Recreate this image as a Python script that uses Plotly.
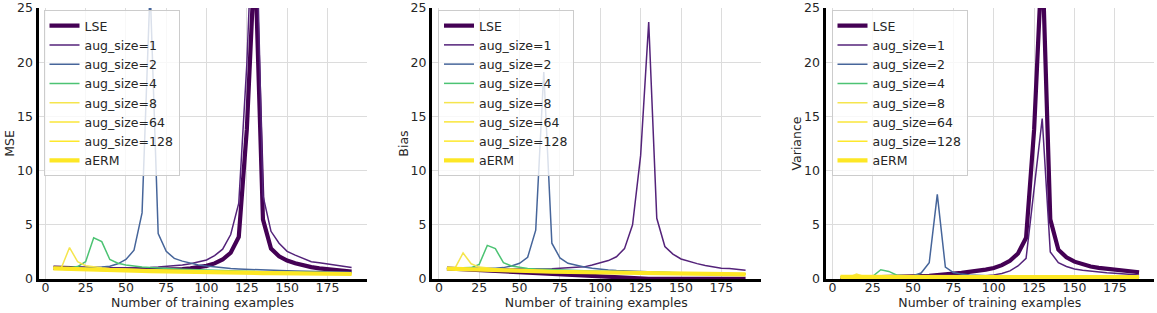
import plotly.graph_objects as go

# ---------------- data ----------------
X = [5, 10, 15, 20, 25, 30, 35, 40, 45, 50, 55, 60, 65, 70, 75, 80, 85, 90, 95, 100,
     105, 110, 115, 120, 125, 130, 135, 140, 145, 150, 155, 160, 165, 170, 175, 180, 185, 190]

SERIES = ["LSE", "aug_size=1", "aug_size=2", "aug_size=4", "aug_size=8",
          "aug_size=64", "aug_size=128", "aERM"]

# MSE panel
lse_mse = [1.05, 1.02, 0.99, 0.96, 0.94, 0.91, 0.89, 0.87, 0.85, 0.85,
           0.84, 0.83, 0.83, 0.84, 0.85, 0.88, 0.92, 0.98, 1.07, 1.21,
           1.44, 1.8, 2.42, 3.88, 13.8, 30.0, 5.5, 2.8, 2.1, 1.7,
           1.45, 1.25, 1.1, 0.98, 0.9, 0.82, 0.75, 0.68]
aug1_mse = [1.02, 1.02, 1.02, 1.02, 1.02, 1.02, 1.02, 1.02, 1.02, 1.02,
            1.03, 1.05, 1.07, 1.1, 1.15, 1.21, 1.3, 1.41, 1.57, 1.75,
            2.15, 2.75, 4.1, 7.0, 19.8, 38.5, 7.7, 4.4, 3.3, 2.55,
            2.2, 1.9, 1.6, 1.5, 1.4, 1.3, 1.2, 1.07]
aug2_mse = [1.05, 1.04, 1.04, 1.04, 1.05, 1.06, 1.1, 1.18, 1.4, 1.8,
            2.65, 6.1, 26.9, 4.2, 2.55, 1.9, 1.65, 1.45, 1.3, 1.2,
            1.1, 1.02, 0.96, 0.92, 0.88, 0.85, 0.82, 0.79, 0.77, 0.75,
            0.73, 0.71, 0.69, 0.67, 0.66, 0.64, 0.63, 0.62]
aug4_mse = [1.0, 1.0, 1.05, 1.15, 1.6, 3.8, 3.45, 1.8, 1.45, 1.3,
            1.18, 1.1, 1.05, 1.0, 0.97, 0.94, 0.91, 0.88, 0.85, 0.83,
            0.8, 0.78, 0.76, 0.74, 0.72, 0.7, 0.68, 0.67, 0.65, 0.64,
            0.62, 0.61, 0.6, 0.59, 0.58, 0.57, 0.56, 0.55]
aug8_mse = [1.05, 1.05, 2.9, 1.6, 1.22, 1.1, 1.03, 0.98, 0.95, 0.92,
            0.89, 0.86, 0.84, 0.82, 0.8, 0.78, 0.76, 0.74, 0.72, 0.7,
            0.69, 0.67, 0.66, 0.64, 0.63, 0.62, 0.61, 0.6, 0.59, 0.58,
            0.57, 0.56, 0.55, 0.54, 0.53, 0.52, 0.51, 0.5]
aug64_mse = [1.0, 0.97, 0.95, 0.92, 0.9, 0.88, 0.86, 0.84, 0.82, 0.8,
             0.78, 0.76, 0.74, 0.73, 0.71, 0.7, 0.68, 0.67, 0.65, 0.64,
             0.63, 0.62, 0.61, 0.6, 0.59, 0.58, 0.57, 0.56, 0.55, 0.54,
             0.53, 0.53, 0.52, 0.51, 0.5, 0.5, 0.49, 0.48]
aug128_mse = [0.99, 0.96, 0.94, 0.92, 0.89, 0.87, 0.85, 0.83, 0.81, 0.79,
              0.77, 0.75, 0.74, 0.72, 0.7, 0.69, 0.67, 0.66, 0.65, 0.63,
              0.62, 0.61, 0.6, 0.59, 0.58, 0.57, 0.56, 0.55, 0.54, 0.53,
              0.52, 0.52, 0.51, 0.5, 0.49, 0.49, 0.48, 0.47]
aerm_mse = [0.98, 0.95, 0.93, 0.9, 0.88, 0.86, 0.84, 0.82, 0.8, 0.78,
            0.76, 0.74, 0.73, 0.71, 0.69, 0.68, 0.66, 0.65, 0.64, 0.62,
            0.61, 0.6, 0.59, 0.58, 0.57, 0.56, 0.55, 0.54, 0.53, 0.52,
            0.51, 0.51, 0.5, 0.49, 0.48, 0.48, 0.47, 0.46]

# Bias panel
lse_bias = [0.97, 0.93, 0.89, 0.85, 0.81, 0.77, 0.73, 0.69, 0.65, 0.62,
            0.58, 0.54, 0.5, 0.46, 0.42, 0.38, 0.34, 0.3, 0.25, 0.2,
            0.16, 0.12, 0.09, 0.06, 0.04, 0.02, 0.02, 0.02, 0.02, 0.02,
            0.02, 0.02, 0.02, 0.02, 0.02, 0.02, 0.02, 0.02]
aug1_bias = [1.0, 0.98, 0.97, 0.96, 0.95, 0.94, 0.93, 0.92, 0.92, 0.91,
             0.91, 0.91, 0.92, 0.94, 0.97, 1.01, 1.05, 1.12, 1.3, 1.5,
             1.7, 2.05, 2.8, 5.0, 11.4, 23.7, 5.6, 3.0, 2.3, 1.85,
             1.6, 1.42, 1.25, 1.1, 1.0, 0.97, 0.9, 0.8]
aug2_bias = [1.0, 0.99, 0.98, 0.98, 0.98, 0.99, 1.0, 1.05, 1.2, 1.45,
             2.0, 4.5, 19.1, 3.3, 1.95, 1.45, 1.25, 1.1, 1.0, 0.9,
             0.84, 0.79, 0.75, 0.71, 0.67, 0.64, 0.62, 0.6, 0.58, 0.56,
             0.55, 0.53, 0.52, 0.51, 0.5, 0.49, 0.48, 0.47]
aug4_bias = [1.0, 1.0, 0.99, 1.05, 1.35, 3.1, 2.8, 1.5, 1.2, 1.05,
             0.97, 0.92, 0.88, 0.85, 0.82, 0.79, 0.77, 0.75, 0.73, 0.71,
             0.69, 0.67, 0.65, 0.63, 0.62, 0.6, 0.59, 0.58, 0.56, 0.55,
             0.54, 0.53, 0.52, 0.51, 0.5, 0.49, 0.48, 0.47]
aug8_bias = [1.0, 1.0, 2.4, 1.4, 1.1, 1.0, 0.95, 0.9, 0.87, 0.84,
             0.81, 0.78, 0.76, 0.74, 0.72, 0.7, 0.68, 0.66, 0.65, 0.63,
             0.62, 0.6, 0.59, 0.58, 0.57, 0.56, 0.55, 0.54, 0.53, 0.52,
             0.51, 0.5, 0.49, 0.48, 0.47, 0.46, 0.45, 0.44]
aug64_bias = [0.98, 0.95, 0.92, 0.9, 0.87, 0.85, 0.83, 0.81, 0.79, 0.77,
              0.75, 0.73, 0.71, 0.69, 0.68, 0.66, 0.65, 0.63, 0.62, 0.61,
              0.59, 0.58, 0.57, 0.56, 0.55, 0.54, 0.53, 0.52, 0.51, 0.5,
              0.49, 0.48, 0.48, 0.47, 0.46, 0.45, 0.45, 0.44]
aug128_bias = [0.97, 0.94, 0.91, 0.89, 0.86, 0.84, 0.82, 0.8, 0.78, 0.76,
               0.74, 0.72, 0.7, 0.68, 0.67, 0.65, 0.64, 0.62, 0.61, 0.6,
               0.58, 0.57, 0.56, 0.55, 0.54, 0.53, 0.52, 0.51, 0.5, 0.49,
               0.48, 0.47, 0.47, 0.46, 0.45, 0.44, 0.44, 0.43]
aerm_bias = [0.96, 0.93, 0.9, 0.88, 0.85, 0.83, 0.81, 0.79, 0.77, 0.75,
             0.73, 0.71, 0.69, 0.67, 0.66, 0.64, 0.63, 0.61, 0.6, 0.59,
             0.57, 0.56, 0.55, 0.54, 0.53, 0.52, 0.51, 0.5, 0.49, 0.48,
             0.47, 0.46, 0.46, 0.45, 0.44, 0.43, 0.43, 0.42]

# Variance panel
lse_var = [0.08, 0.09, 0.1, 0.11, 0.13, 0.14, 0.16, 0.18, 0.2, 0.23,
           0.26, 0.29, 0.33, 0.42, 0.5, 0.57, 0.65, 0.75, 0.87, 1.02,
           1.28, 1.68, 2.35, 3.8, 13.8, 30.0, 5.5, 2.7, 2.0, 1.6,
           1.35, 1.15, 1.02, 0.95, 0.88, 0.78, 0.7, 0.62]
aug1_var = [0.1, 0.1, 0.1, 0.1, 0.1, 0.11, 0.11, 0.11, 0.12, 0.12,
            0.13, 0.14, 0.15, 0.16, 0.18, 0.2, 0.23, 0.26, 0.3, 0.38,
            0.5, 0.75, 1.2, 1.9, 8.4, 14.8, 2.5, 1.5, 1.15, 0.92,
            0.8, 0.7, 0.62, 0.57, 0.53, 0.47, 0.42, 0.38]
aug2_var = [0.12, 0.12, 0.12, 0.12, 0.13, 0.13, 0.14, 0.15, 0.2, 0.3,
            0.55, 1.5, 7.8, 1.1, 0.6, 0.45, 0.38, 0.33, 0.3, 0.28,
            0.26, 0.25, 0.24, 0.23, 0.22, 0.21, 0.2, 0.2, 0.19, 0.19,
            0.18, 0.18, 0.17, 0.17, 0.17, 0.16, 0.16, 0.16]
aug4_var = [0.15, 0.15, 0.17, 0.2, 0.25, 0.85, 0.7, 0.35, 0.3, 0.27,
            0.25, 0.23, 0.22, 0.21, 0.2, 0.2, 0.19, 0.19, 0.18, 0.18,
            0.18, 0.17, 0.17, 0.17, 0.16, 0.16, 0.16, 0.16, 0.15, 0.15,
            0.15, 0.15, 0.15, 0.14, 0.14, 0.14, 0.14, 0.14]
aug8_var = [0.15, 0.15, 0.45, 0.22, 0.18, 0.17, 0.17, 0.16, 0.16, 0.16,
            0.16, 0.16, 0.15, 0.15, 0.15, 0.15, 0.15, 0.15, 0.15, 0.15,
            0.15, 0.15, 0.15, 0.14, 0.14, 0.14, 0.14, 0.14, 0.14, 0.14,
            0.14, 0.14, 0.14, 0.14, 0.14, 0.14, 0.14, 0.14]
aug64_var = [0.18, 0.18, 0.18, 0.18, 0.18, 0.18, 0.18, 0.18, 0.17, 0.17,
             0.17, 0.17, 0.17, 0.17, 0.17, 0.17, 0.17, 0.17, 0.17, 0.17,
             0.17, 0.17, 0.17, 0.16, 0.16, 0.16, 0.16, 0.16, 0.16, 0.16,
             0.16, 0.16, 0.16, 0.16, 0.16, 0.16, 0.16, 0.16]
aug128_var = [0.18, 0.18, 0.18, 0.18, 0.18, 0.18, 0.18, 0.18, 0.18, 0.18,
              0.18, 0.18, 0.18, 0.17, 0.17, 0.17, 0.17, 0.17, 0.17, 0.17,
              0.17, 0.17, 0.17, 0.17, 0.17, 0.17, 0.17, 0.17, 0.17, 0.17,
              0.17, 0.17, 0.17, 0.17, 0.17, 0.17, 0.17, 0.17]
aerm_var = [0.19, 0.19, 0.19, 0.19, 0.19, 0.19, 0.19, 0.19, 0.19, 0.19,
            0.19, 0.19, 0.19, 0.19, 0.19, 0.19, 0.19, 0.18, 0.18, 0.18,
            0.18, 0.18, 0.18, 0.18, 0.18, 0.18, 0.18, 0.18, 0.18, 0.18,
            0.18, 0.18, 0.18, 0.18, 0.18, 0.18, 0.18, 0.18]

PANELS = [
    ("MSE", [lse_mse, aug1_mse, aug2_mse, aug4_mse, aug8_mse, aug64_mse, aug128_mse, aerm_mse]),
    ("Bias", [lse_bias, aug1_bias, aug2_bias, aug4_bias, aug8_bias, aug64_bias, aug128_bias, aerm_bias]),
    ("Variance", [lse_var, aug1_var, aug2_var, aug4_var, aug8_var, aug64_var, aug128_var, aerm_var]),
]

X_TICKS = [0, 25, 50, 75, 100, 125, 150, 175]
Y_TICKS = [0, 5, 10, 15, 20, 25]
X_TITLE = "Number of training examples"

# ---------------- style ----------------
COLORS = ["#440154", "#54237a", "#46659a", "#4cc373", "#f5e54e", "#fae63a", "#fde82c", "#fde725"]
WIDTHS = [4.2, 1.5, 1.5, 1.5, 1.5, 1.5, 1.5, 4.2]

W, H = 1157, 313
FONT = "DejaVu Sans"
FS = 12.5
TXT = "#262626"

# pixel geometry of the three panels (left, right), shared top/bottom
PX = [(38.5, 366.5), (432.0, 760.5), (825.5, 1154.0)]
TOP, BOT = 8.0, 279.0
LEG_X = [43.5, 438.0, 831.5]
LEG_Y = 10.0

fig = go.Figure()
layout = dict(
    width=W, height=H,
    margin=dict(l=0, r=0, t=0, b=0),
    paper_bgcolor="white", plot_bgcolor="white",
    font=dict(family=FONT, size=FS, color=TXT),
    showlegend=True,
)

for i, (ylabel, series_vals) in enumerate(PANELS):
    sfx = "" if i == 0 else str(i + 1)
    leg = "legend" + sfx
    for name, vals, col, w in zip(SERIES, series_vals, COLORS, WIDTHS):
        fig.add_trace(go.Scatter(
            x=X, y=vals, mode="lines", name=name,
            line=dict(color=col, width=w),
            xaxis="x" + sfx, yaxis="y" + sfx, legend=leg,
            hoverinfo="skip",
        ))
    l, r = PX[i]
    layout["xaxis" + sfx] = dict(
        domain=[l / W, r / W], anchor="y" + sfx,
        range=[-4.25, 199.25], tickmode="array", tickvals=X_TICKS,
        showgrid=True, gridcolor="#dcdcdc", gridwidth=1, zeroline=False,
        showline=True, linecolor="black", linewidth=3, ticks="",
        ticklabelstandoff=-5,
        tickfont=dict(family=FONT, size=FS, color=TXT),
        title=dict(text=X_TITLE, font=dict(family=FONT, size=FS, color=TXT), standoff=2),
        automargin=False, fixedrange=True,
    )
    layout["yaxis" + sfx] = dict(
        domain=[1 - BOT / H, 1 - TOP / H], anchor="x" + sfx,
        range=[0, 25], tickmode="array", tickvals=Y_TICKS,
        showgrid=True, gridcolor="#dcdcdc", gridwidth=1, zeroline=False,
        showline=True, linecolor="black", linewidth=3, ticks="",
        tickfont=dict(family=FONT, size=FS, color=TXT),
        title=dict(text=ylabel, font=dict(family=FONT, size=FS, color=TXT), standoff=0),
        automargin=False, fixedrange=True,
    )
    layout[leg] = dict(
        x=LEG_X[i] / W, y=1 - LEG_Y / H, xanchor="left", yanchor="top",
        xref="paper", yref="paper",
        bgcolor="rgba(255,255,255,0.8)", bordercolor="#cccccc", borderwidth=1,
        font=dict(family=FONT, size=FS, color=TXT),
        tracegroupgap=0, itemwidth=30, traceorder="normal",
    )

fig.update_layout(**layout)

fig.write_html(
    "out.html",
    config={"displayModeBar": False},
    post_script="document.body.style.margin='0';document.body.style.overflow='hidden';",
)
